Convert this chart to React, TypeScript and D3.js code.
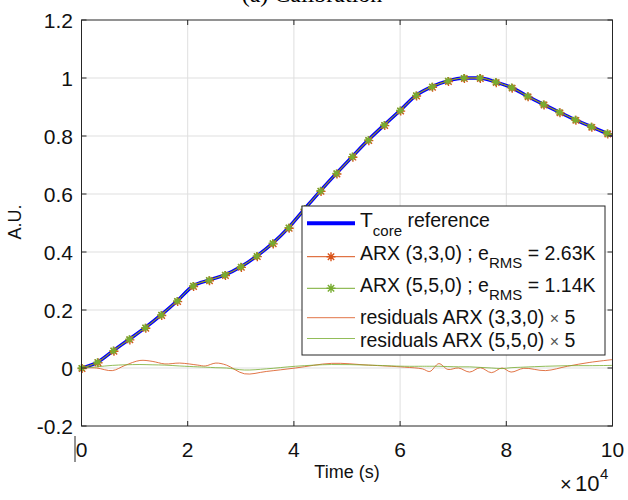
import React from 'react';
import * as d3 from 'd3';

// time axis (s) of the sampled curves, one sample every 3000 s (marker positions)
const times = [
  0, 3000, 6000, 9000, 12000, 15000, 18000, 21000, 24000, 27000, 30000, 33000,
  36000, 39000, 42000, 45000, 48000, 51000, 54000, 57000, 60000, 63000, 66000,
  69000, 72000, 75000, 78000, 81000, 84000, 87000, 90000, 93000, 96000, 99000, 100000,
];

// normalised core temperature (A.U.)
const refValues = [
  0.0, 0.02, 0.06, 0.099, 0.139, 0.183, 0.231, 0.283, 0.303, 0.321, 0.349, 0.386,
  0.43, 0.484, 0.548, 0.611, 0.671, 0.729, 0.786, 0.838, 0.888, 0.94, 0.97,
  0.99, 1.0, 1.0, 0.986, 0.967, 0.937, 0.909, 0.882, 0.856, 0.832, 0.809, 0.803,
];

// model outputs lie on top of the reference at this scale
const arx330Values = refValues;
const arx550Values = refValues;

// residuals x 5
const resTimes = [
  0, 2800, 5800, 8200, 11000, 13300, 15700, 18500, 21900, 23300, 25300, 27300,
  30700, 34800, 40300, 47100, 54000, 60800, 64200, 65600, 67300, 69000, 71000,
  73100, 75100, 77200, 79200, 80900, 83300, 87400, 91500, 95600, 100000,
];
const res330 = [
  0, 0, -0.009, 0.009, 0.026, 0.023, 0.014, 0.017, 0.01, 0.007, 0.017, 0.01,
  -0.02, -0.012, 0, 0.016, 0.01, 0.003, -0.003, -0.012, 0.015, -0.005, 0,
  -0.014, 0.001, -0.016, 0, -0.014, -0.001, -0.009, 0.006, 0.019, 0.029,
];
const res550 = [
  0, 0.004, 0.009, 0.011, 0.012, 0.011, 0.01, 0.007, 0.004, 0.003, 0.001, 0,
  -0.007, -0.003, 0.006, 0.012, 0.01, 0.006, 0.006, 0.006, 0.006, 0.005, 0.004,
  0.004, 0.002, 0, -0.002, 0.001, 0.003, 0.006, 0.008, 0.008, 0.009,
];

const xTicks = [0, 20000, 40000, 60000, 80000, 100000];
const yTicks = [-0.2, 0, 0.2, 0.4, 0.6, 0.8, 1, 1.2];

const BLUE = '#0000ff';
const ORANGE = '#D95319';
const GREEN = '#77AC30';
const AXIS = '#262626';
const FONT = '"Liberation Sans", Arial, sans-serif';

const star = (r: number) => {
  const d = r * 0.707;
  return `M${-r},0L${r},0M0,${-r}L0,${r}M${-d},${-d}L${d},${d}M${-d},${d}L${d},${-d}`;
};

const App = () => {
  const width = 628;
  const height = 500;
  const x = d3.scaleLinear().domain([0, 100000]).range([81.5, 612.5]);
  const y = d3.scaleLinear().domain([-0.2, 1.2]).range([426, 20]);
  const [x0, x1] = x.range();
  const [y0, y1] = y.range();

  const smooth = d3.line<number>()
    .x((_, i) => x(times[i]))
    .y((v) => y(v))
    .curve(d3.curveMonotoneX);
  const resLine = d3.line<number>()
    .x((_, i) => x(resTimes[i]))
    .y((v) => y(v))
    .curve(d3.curveCatmullRom.alpha(0.5));

  const markerIdx = times.map((t, i) => i).filter((i) => times[i] % 3000 === 0);

  const tickLen = 5;

  return (
    <div style={{ position: 'absolute', left: 0, top: 0 }}>
      <svg width={width} height={height} style={{ background: 'white', display: 'block' }}>
        {/* title, cut off by the top edge like in the source figure */}
        <text x={312} y={1.5} textAnchor="middle" fontFamily='"Liberation Serif", "Times New Roman", serif' fontSize={24}>
          (a) Calibration
        </text>

        {/* grid */}
        <g stroke="#dfdfdf" strokeWidth={1}>
          {xTicks.slice(1, -1).map((t) => (
            <line key={'gx' + t} x1={x(t)} x2={x(t)} y1={y1} y2={y0} />
          ))}
          {yTicks.slice(1, -1).map((t) => (
            <line key={'gy' + t} x1={x0} x2={x1} y1={y(t)} y2={y(t)} />
          ))}
        </g>

        {/* data */}
        <path d={smooth(refValues) || ''} fill="none" stroke={BLUE} strokeWidth={3.5} />
        <path d={smooth(arx330Values) || ''} fill="none" stroke={ORANGE} strokeWidth={1} />
        <g stroke={ORANGE} strokeWidth={1.4} fill="none">
          {markerIdx.map((i) => (
            <path key={'m1' + i} d={star(4.5)} transform={`translate(${x(times[i]) + 0.6},${y(arx330Values[i]) + 0.6})`} />
          ))}
        </g>
        <path d={smooth(arx550Values) || ''} fill="none" stroke={GREEN} strokeWidth={1} />
        <g stroke={GREEN} strokeWidth={1.4} fill="none">
          {markerIdx.map((i) => (
            <path key={'m2' + i} d={star(4)} transform={`translate(${x(times[i])},${y(arx550Values[i])})`} />
          ))}
        </g>
        <path d={resLine(res330) || ''} fill="none" stroke={ORANGE} strokeOpacity={0.8} strokeWidth={1} />
        <path d={resLine(res550) || ''} fill="none" stroke={GREEN} strokeOpacity={0.8} strokeWidth={1} />

        {/* axes box and inward ticks */}
        <rect x={x0} y={y1} width={x1 - x0} height={y0 - y1} fill="none" stroke={AXIS} strokeWidth={1} />
        <g stroke={AXIS} strokeWidth={1}>
          {xTicks.map((t) => (
            <g key={'tx' + t}>
              <line x1={x(t)} x2={x(t)} y1={y0} y2={y0 - tickLen} />
              <line x1={x(t)} x2={x(t)} y1={y1} y2={y1 + tickLen} />
            </g>
          ))}
          {yTicks.map((t) => (
            <g key={'ty' + t}>
              <line x1={x0} x2={x0 + tickLen} y1={y(t)} y2={y(t)} />
              <line x1={x1} x2={x1 - tickLen} y1={y(t)} y2={y(t)} />
            </g>
          ))}
          <line x1={75} x2={75} y1={436} y2={462} />
        </g>

        {/* tick labels */}
        <g fontFamily={FONT} fontSize={21} fill="#111">
          {xTicks.map((t) => (
            <text key={'lx' + t} x={x(t)} y={457} textAnchor="middle">{t / 10000}</text>
          ))}
          {yTicks.map((t) => (
            <text key={'ly' + t} x={73} y={y(t) + 7.5} textAnchor="end">{d3.format('~g')(t).replace('−', '-')}</text>
          ))}
        </g>
        {/* exponent of the x axis */}
        <g fontFamily={FONT} fill="#111">
          <text x={560} y={491} fontSize={20}>×</text>
          <text x={575} y={491} fontSize={22}>10</text>
          <text x={600} y={479} fontSize={15}>4</text>
        </g>

        {/* axis labels */}
        <text x={347} y={478} textAnchor="middle" fontFamily={FONT} fontSize={18} fill="#111">Time (s)</text>
        <text transform="translate(21,222) rotate(-90)" textAnchor="middle" fontFamily={FONT} fontSize={18} fill="#111">A.U.</text>

        {/* legend */}
        <g fontFamily={FONT} fill="#111">
          <rect x={302} y={206} width={303} height={149} fill="white" stroke={AXIS} strokeWidth={1} />
          <line x1={307} x2={355} y1={223.3} y2={223.3} stroke={BLUE} strokeWidth={4} />
          <text x={360} y={227} fontSize={19.5}>
            <tspan fontSize={21} dy={0}>T</tspan>
            <tspan fontSize={15} dy={9}>core</tspan>
            <tspan dy={-9}> reference</tspan>
          </text>

          <line x1={307} x2={355} y1={256.7} y2={256.7} stroke={ORANGE} strokeWidth={1} />
          <path d={star(4.5)} transform="translate(331,256.7)" stroke={ORANGE} strokeWidth={1.4} fill="none" />
          <text x={360} y={260} fontSize={19.5}>
            ARX (3,3,0) ; e<tspan fontSize={15} dy={8}>RMS</tspan><tspan dy={-8}> = 2.63K</tspan>
          </text>

          <line x1={307} x2={355} y1={288.3} y2={288.3} stroke={GREEN} strokeWidth={1} />
          <path d={star(4.5)} transform="translate(331,288.3)" stroke={GREEN} strokeWidth={1.4} fill="none" />
          <text x={360} y={291.5} fontSize={19.5}>
            ARX (5,5,0) ; e<tspan fontSize={15} dy={8}>RMS</tspan><tspan dy={-8}> = 1.14K</tspan>
          </text>

          <line x1={307} x2={355} y1={317.7} y2={317.7} stroke={ORANGE} strokeOpacity={0.8} strokeWidth={1} />
          <text x={360} y={324} fontSize={19.5}>
            residuals ARX (3,3,0) <tspan fill="#555" fontSize={16}>×</tspan> 5
          </text>

          <line x1={307} x2={355} y1={338.5} y2={338.5} stroke={GREEN} strokeOpacity={0.8} strokeWidth={1} />
          <text x={360} y={346.5} fontSize={19.5}>
            residuals ARX (5,5,0) <tspan fill="#555" fontSize={16}>×</tspan> 5
          </text>
        </g>
      </svg>
    </div>
  );
};

export default App;
